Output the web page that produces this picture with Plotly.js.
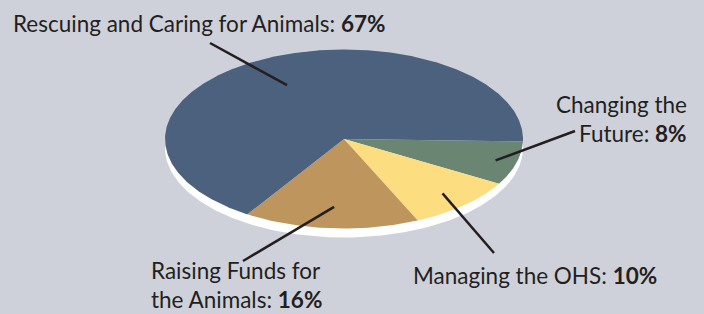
<!DOCTYPE html>
<html><head><meta charset="utf-8">
<script src="https://cdn.plot.ly/plotly-3.0.1.min.js"></script>
<style>html,body{margin:0;padding:0;background:#CFD1DA;}#chart{width:704px;height:314px;}</style>
</head><body><div id="chart"></div>
<script>
// Data (pie order, clockwise starting just below the 3 o'clock position)
const categories = ['Changing the Future', 'Managing the OHS', 'Raising Funds for the Animals', 'Rescuing and Caring for Animals'];
const values = [8, 10, 16, 67];
const colors = ['#6A8672', '#FCDD80', '#BF955E', '#4B617D'];
const labelTexts = ['Changing the<br>Future: ', 'Managing the OHS: ', 'Raising Funds for<br>the Animals: ', 'Rescuing and Caring for Animals: '];

// Layout geometry (pixel-like plot coordinates)
const W = 704, H = 314;
const cx = 344, cy = 139, rx = 179, ry = 89.5, depth = 9;
const startDeg = 1.5;
const labelPos = [
  {x: 689, ys: [104, 133], xanchor: 'right', lx: 575, ly: 131, r: 0.88},
  {x: 411, ys: [275], xanchor: 'left', lx: 494, ly: 253, r: 0.82},
  {x: 149, ys: [270, 299], xanchor: 'left', lx: 243, ly: 261, r: 0.76},
  {x: 11, ys: [23], xanchor: 'left', lx: 210, ly: 43, r: 0.68}
];

const total = values.reduce((a, b) => a + b, 0);
const traces = [];
// 3D edge (white side)
(function(){
  const xs = [], ys = [];
  for (let i = 0; i <= 360; i++) {
    const t = i * Math.PI / 180;
    xs.push(cx + rx * Math.cos(t)); ys.push(cy + depth + ry * Math.sin(t));
  }
  traces.push({type: 'scatter', mode: 'lines', x: xs, y: ys, fill: 'toself', fillcolor: '#FFFFFF', line: {width: 0}, hoverinfo: 'skip', showlegend: false});
})();

const shapes = [], annotations = [];
let a0 = startDeg;
values.forEach((v, k) => {
  const span = v / total * 360;
  const a1 = a0 + span;
  const xs = [cx], ys = [cy];
  const n = Math.max(4, Math.ceil(span * 2));
  for (let i = 0; i <= n; i++) {
    const t = (a0 + span * i / n) * Math.PI / 180;
    xs.push(cx + rx * Math.cos(t)); ys.push(cy + ry * Math.sin(t));
  }
  xs.push(cx); ys.push(cy);
  traces.push({type: 'scatter', mode: 'lines', x: xs, y: ys, fill: 'toself', fillcolor: colors[k], line: {width: 0}, hoverinfo: 'skip', showlegend: false});
  const mid = (a0 + span / 2) * Math.PI / 180;
  const p = labelPos[k];
  shapes.push({type: 'line', xref: 'x', yref: 'y', x0: cx + p.r * rx * Math.cos(mid), y0: cy + p.r * ry * Math.sin(mid), x1: p.lx, y1: p.ly, line: {color: '#231F20', width: 2.5}});
  const lines = (labelTexts[k] + '<b>' + v + '%</b>').split('<br>');
  lines.forEach((txt, j) => {
    annotations.push({xref: 'x', yref: 'y', x: p.x, y: p.ys[j], xanchor: p.xanchor, yanchor: 'middle', align: p.xanchor, showarrow: false,
      text: txt, font: {family: 'Lato, sans-serif', size: 22.5, color: '#231F20'}});
  });
  a0 = a1;
});

const layout = {
  width: W, height: H, margin: {l: 0, r: 0, t: 0, b: 0},
  paper_bgcolor: '#CFD1DA', plot_bgcolor: '#CFD1DA',
  xaxis: {range: [0, W], visible: false, fixedrange: true},
  yaxis: {range: [H, 0], visible: false, fixedrange: true},
  shapes: shapes, annotations: annotations, showlegend: false
};
Plotly.newPlot('chart', traces, layout, {staticPlot: true, displayModeBar: false});
</script></body></html>
